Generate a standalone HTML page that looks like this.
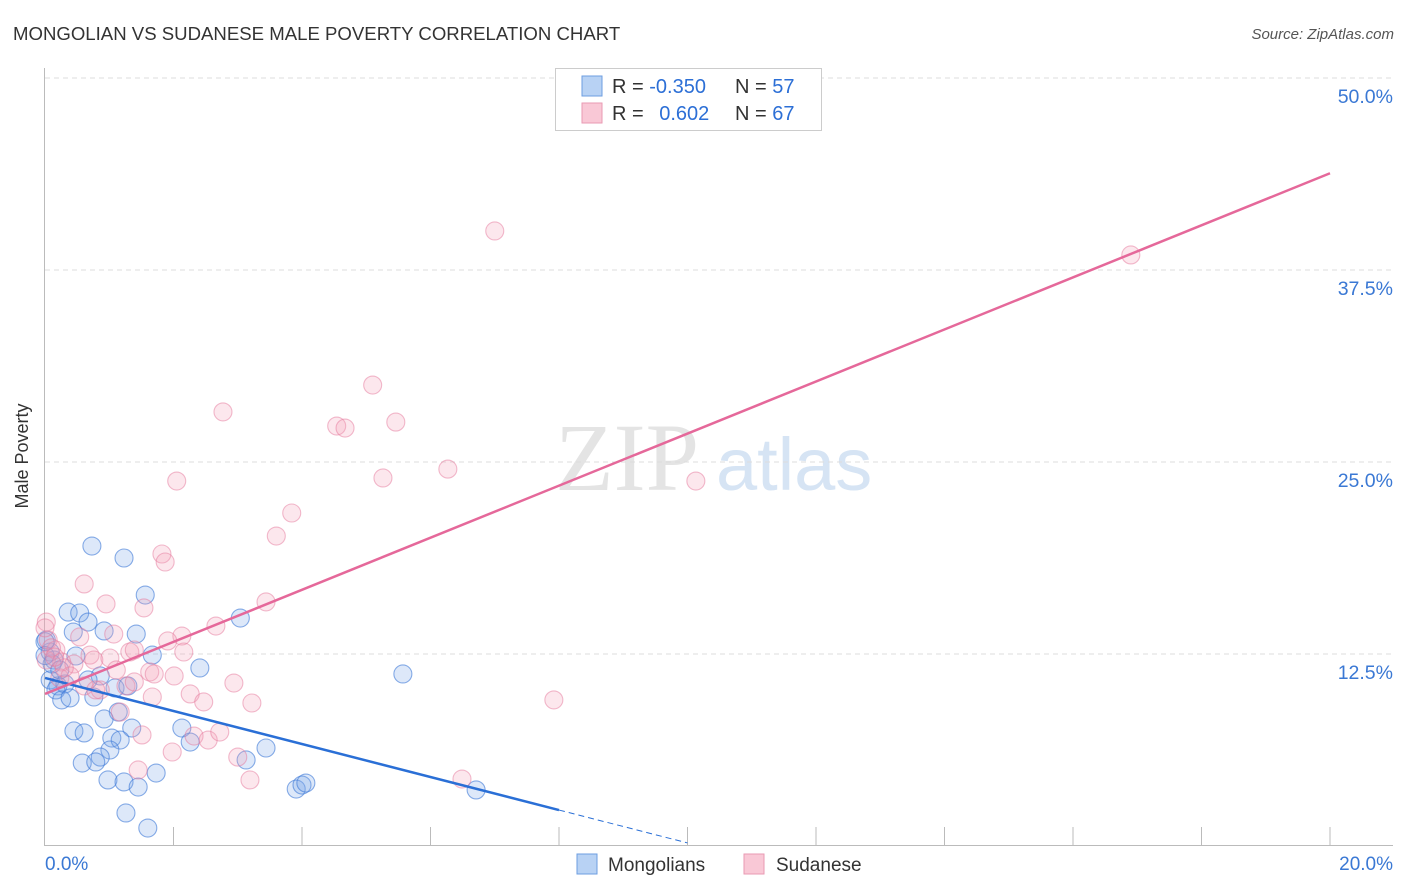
<!DOCTYPE html>
<html><head><meta charset="utf-8">
<style>
body{margin:0;background:#fff;font-family:"Liberation Sans",sans-serif;}
#wrap{position:relative;width:1406px;height:892px;overflow:hidden;}
</style></head>
<body>
<div id="wrap">
<svg id="svg" width="1406" height="892" xmlns="http://www.w3.org/2000/svg">
<text x="13" y="40" font-size="18.6" fill="#333">MONGOLIAN VS SUDANESE MALE POVERTY CORRELATION CHART</text>
<text x="1394" y="39" font-size="15" fill="#555" font-style="italic" text-anchor="end">Source: ZipAtlas.com</text>
<g>
<text x="555" y="490" font-size="96" fill="#e4e4e4" font-family="Liberation Serif,serif">ZIP</text>
<text x="716" y="490" font-size="74" fill="#d6e4f4">atlas</text>
</g>
<g id="grid"></g>
<g id="axes"></g>
<g id="pts"></g>
<g id="lines"></g>
<text x="28" y="456" font-size="18" fill="#333" text-anchor="middle" transform="rotate(-90 28 456)">Male Poverty</text>
<g>
<rect x="555.5" y="68.5" width="266" height="62" fill="#fff" stroke="#ccc"/>
<rect x="582" y="76" width="20" height="20" fill="#b8d2f4" stroke="#6d9ee0"/>
<rect x="582" y="103" width="20" height="20" fill="#f9c8d6" stroke="#e99ab3"/>
<text x="612" y="93" font-size="20" fill="#333">R = <tspan fill="#2c6fd6">-0.350</tspan></text>
<text x="735" y="93" font-size="20" fill="#333">N = <tspan fill="#2c6fd6">57</tspan></text>
<text x="612" y="120" font-size="20" fill="#333">R =  <tspan fill="#2c6fd6" dx="10">0.602</tspan></text>
<text x="735" y="120" font-size="20" fill="#333">N = <tspan fill="#2c6fd6">67</tspan></text>
</g>
<g>
<rect x="577" y="854" width="20" height="20" fill="#b8d2f4" stroke="#6d9ee0"/>
<text x="608" y="871" font-size="19" fill="#333">Mongolians</text>
<rect x="744" y="854" width="20" height="20" fill="#f9c8d6" stroke="#e99ab3"/>
<text x="776" y="871" font-size="19" fill="#333">Sudanese</text>
</g>
</svg>
</div>
<script>
const yTicks=[12.5,25,37.5,50];
const yTickLabels=["12.5%","25.0%","37.5%","50.0%"];
const xTicks=[0,2,4,6,8,10,12,14,16,18,20];
const xEndLabels=["0.0%","20.0%"];
const blueX=[0.73,1.23,1.56,0.36,0.54,0.67,0.92,1.42,0.44,3.04,1.67,2.41,5.57,0.08,0.14,0.48,0.08,0.2,0.31,0.86,0.67,1.09,1.29,0.17,0.26,0.39,0.76,1.14,0.92,1.35,2.13,0.45,0.61,1.04,1.17,1.01,2.26,3.44,0.86,0.58,0.79,3.13,1.73,0.98,1.23,1.45,3.91,4.0,4.06,6.71,1.26,1.6,0.11,0.02,0.23,0.0,0.0];
const blueY=[19.53,18.75,16.34,15.23,15.17,14.58,14.0,13.8,13.93,14.84,12.43,11.59,11.2,12.63,12.11,12.37,10.81,10.42,10.55,11.07,10.81,10.29,10.42,10.16,9.51,9.64,9.7,8.72,8.27,7.68,7.68,7.49,7.36,7.03,6.9,6.25,6.77,6.38,5.79,5.4,5.47,5.6,4.75,4.3,4.17,3.84,3.71,3.97,4.1,3.65,2.15,1.17,11.85,13.41,11.46,13.3,12.4];
const pinkX=[7.0,16.9,5.1,2.77,4.54,4.67,5.46,6.27,5.26,2.05,10.13,3.84,3.6,1.82,1.87,0.61,0.95,1.54,3.44,2.66,2.13,1.91,1.07,0.02,0.05,0.17,0.26,0.54,0.7,0.45,0.76,1.01,1.32,1.39,1.63,1.7,2.01,2.16,0.23,0.39,0.61,0.86,1.26,1.39,1.67,2.26,2.47,2.94,3.22,1.17,1.51,1.98,2.32,2.54,2.72,3.0,3.19,1.45,7.92,6.49,1.11,0.79,0.02,0.0,0.1,0.3,0.15];
const pinkY=[40.04,38.48,30.01,28.26,27.34,27.21,27.6,24.54,23.96,23.76,23.76,21.68,20.18,19.01,18.49,17.06,15.76,15.5,15.89,14.32,13.67,13.35,13.8,14.58,13.41,12.76,11.98,13.61,12.43,11.85,12.11,12.24,12.63,12.76,11.33,11.2,11.07,12.63,10.94,11.07,10.42,10.16,10.42,10.68,9.7,9.9,9.38,10.61,9.31,8.72,7.23,6.12,7.16,6.9,7.42,5.79,4.3,4.95,9.51,4.36,11.46,10.16,12.11,14.2,12.9,11.6,12.3];
const blueTrend=[[0,10.94],[8,2.34],[10,0.2]];
const pinkTrend=[[0,9.9],[20,43.8]];

const NS="http://www.w3.org/2000/svg";
const X0=45,X1=1330,Y0=846,YPX=15.36;
const sx=v=>X0+v*(X1-X0)/20, sy=v=>Y0-v*YPX;
function mk(tag,attrs,parent){const e=document.createElementNS(NS,tag);for(const k in attrs)e.setAttribute(k,attrs[k]);parent.appendChild(e);return e;}
const grid=document.getElementById('grid'),axes=document.getElementById('axes'),pts=document.getElementById('pts'),lines=document.getElementById('lines');
yTicks.forEach((t,i)=>{
  const l=mk('line',{x1:45,x2:1393,y1:sy(t),y2:sy(t),stroke:'#ddd','stroke-dasharray':'5,4'},grid);
  
  
  const tx=mk('text',{x:1393,y:sy(t)+25,'font-size':19.5,fill:'#3a78d4','text-anchor':'end'},axes);
  tx.textContent=yTickLabels[i];
  
  
});
const ya=mk('line',{x1:44.5,x2:44.5,y1:68,y2:846,stroke:'#bbb'},axes);


const xa=mk('line',{x1:44,x2:1393,y1:845.5,y2:845.5,stroke:'#bbb'},axes);


xTicks.forEach(t=>{
  if(t===0)return;
  const l=mk('line',{x1:sx(t),x2:sx(t),y1:827,y2:846,stroke:'#bbb'},axes);
  
  
});
[[0,'start',45],[20,'end',1393]].forEach((d,i)=>{
  const tx=mk('text',{x:d[2],y:870,'font-size':19,fill:'#3a78d4','text-anchor':d[1]},axes);
  tx.textContent=xEndLabels[i];
  
  
});
function drawPts(xs,ys,fill,stroke,name){
  xs.forEach((x,i)=>{
    const c=mk('circle',{cx:sx(x),cy:sy(ys[i]),r:9,fill:fill,stroke:stroke,'stroke-width':1.1},pts);
    
    
  });
}
drawPts(blueX,blueY,'rgba(120,165,230,0.25)','rgba(60,120,215,0.6)','mongolian-point');
drawPts(pinkX,pinkY,'rgba(245,160,185,0.25)','rgba(230,120,155,0.5)','sudanese-point');
const b1=mk('line',{x1:sx(blueTrend[0][0]),y1:sy(blueTrend[0][1]),x2:sx(blueTrend[1][0]),y2:sy(blueTrend[1][1]),stroke:'#2a6fd6','stroke-width':2.5},lines);


const b2=mk('line',{x1:sx(blueTrend[1][0]),y1:sy(blueTrend[1][1]),x2:sx(blueTrend[2][0]),y2:sy(blueTrend[2][1]),stroke:'#2a6fd6','stroke-width':1,'stroke-dasharray':'6,4'},lines);


const p1=mk('line',{x1:sx(pinkTrend[0][0]),y1:sy(pinkTrend[0][1]),x2:sx(pinkTrend[1][0]),y2:sy(pinkTrend[1][1]),stroke:'#e5689a','stroke-width':2.5},lines);


</script>
</body></html>
